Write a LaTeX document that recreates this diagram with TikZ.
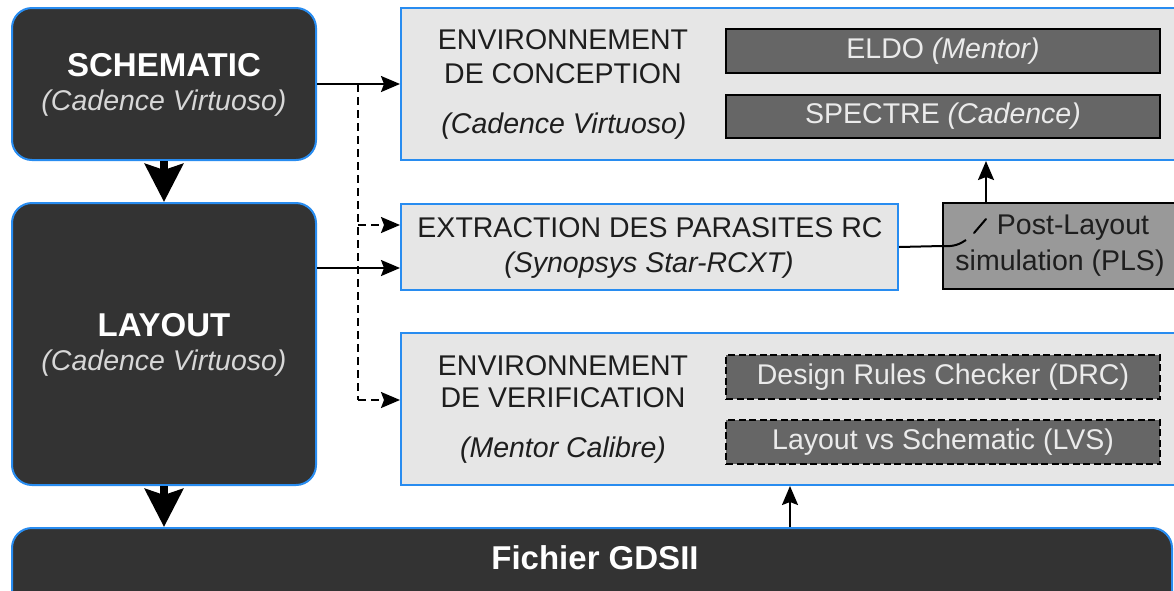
\documentclass[tikz,border=0pt]{standalone}
\usepackage{fontspec}
\setmainfont{Liberation Sans}
\usetikzlibrary{arrows.meta}
\definecolor{bordblue}{RGB}{40,140,240}
\definecolor{darkfill}{RGB}{51,51,51}
\definecolor{lightfill}{RGB}{230,230,230}
\definecolor{midfill}{RGB}{102,102,102}
\definecolor{plsfill}{RGB}{153,153,153}
\definecolor{softwhite}{RGB}{235,235,235}
\definecolor{italgray}{RGB}{215,215,215}
\definecolor{txtdark}{RGB}{30,30,30}
\begin{document}
\begin{tikzpicture}[x=1pt,y=-1pt,
  darkbox/.style={draw=bordblue, line width=2pt, fill=darkfill, rounded corners=20pt, inner sep=0pt},
  envbox/.style={draw=bordblue, line width=2pt, fill=lightfill, inner sep=0pt},
  toolbox/.style={draw=black, line width=1.8pt, fill=midfill, inner sep=0pt, text=softwhite, font=\fontsize{28.5}{30}\selectfont},
  dtoolbox/.style={toolbox, line width=2pt, dash pattern=on 7pt off 3.5pt},
  plsbox/.style={draw=black, line width=1.8pt, fill=plsfill, inner sep=0pt},
  reg/.style={inner sep=0pt, text=txtdark, font=\fontsize{28.5}{30}\selectfont},
  ital/.style={inner sep=0pt, text=txtdark, font=\fontsize{28.5}{30}\selectfont\itshape},
  boldw/.style={inner sep=0pt, text=white, font=\fontsize{33}{36}\selectfont\bfseries},
  italw/.style={inner sep=0pt, text=italgray, font=\fontsize{28.5}{30}\selectfont\itshape},
  big/.style={line width=8pt, -{Stealth[length=38pt,width=38pt,inset=6pt]}},
  arr/.style={line width=2pt, -{Stealth[length=19pt,width=16pt,inset=3pt]}},
  darr/.style={arr, dash pattern=on 8pt off 5pt},
  plain/.style={line width=2pt}
]
\useasboundingbox (0,0) rectangle (1174,590);
\clip (0,0) rectangle (1174,590);
\fill[white] (0,0) rectangle (1174,590);

% left column
\node[darkbox, minimum width=304pt, minimum height=152pt] (sch) at (164,84) {};
\node[boldw] (schT) at (164,65) {SCHEMATIC};
\node[italw] (schS) at (164,103) {(Cadence Virtuoso)};

\node[darkbox, minimum width=304pt, minimum height=282pt] (lay) at (164,344) {};
\node[boldw] (layT) at (164,325) {LAYOUT};
\node[italw] (layS) at (164,363) {(Cadence Virtuoso)};

\node[darkbox, minimum width=1160pt, minimum height=90pt] (gds) at (592,573) {};
\node[boldw] (gdsT) at (595,558) {Fichier GDSII};

% environment conception
\node[envbox, minimum width=779pt, minimum height=152pt] (conc) at (790.5,84) {};
\node[reg] (concA) at (563,40) {ENVIRONNEMENT};
\node[reg] (concB) at (563,74) {DE CONCEPTION};
\node[ital] (concC) at (564,126) {(Cadence Virtuoso)};
\node[toolbox, minimum width=434pt, minimum height=44pt] (eldo) at (943,51) {ELDO \textit{(Mentor)}};
\node[toolbox, minimum width=434pt, minimum height=43pt] (spec) at (943,116.5) {SPECTRE \textit{(Cadence)}};

% extraction
\node[envbox, minimum width=497pt, minimum height=86pt] (ext) at (649.5,247) {};
\node[reg] (extA) at (650,228) {EXTRACTION DES PARASITES RC};
\node[ital] (extB) at (649,265) {(Synopsys Star-RCXT)};

% post-layout simulation
\node[plsbox, minimum width=237pt, minimum height=86pt] (pls) at (1061.5,246) {};
\node[reg] (plsA) at (1073,228) {Post-Layout};
\node[reg] (plsB) at (1060,263) {simulation (PLS)};

% environment verification
\node[envbox, minimum width=779pt, minimum height=152pt] (ver) at (790.5,409) {};
\node[reg] (verA) at (563,366) {ENVIRONNEMENT};
\node[reg] (verB) at (563,398) {DE VERIFICATION};
\node[ital] (verC) at (563,450) {(Mentor Calibre)};
\node[dtoolbox, minimum width=434pt, minimum height=44pt] (drc) at (943,377) {Design Rules Checker (DRC)};
\node[dtoolbox, minimum width=434pt, minimum height=44pt] (lvs) at (943,442) {Layout vs Schematic (LVS)};

% coordinates
\coordinate (dashx) at (358,0);
\coordinate (ya) at (0,225);
\coordinate (yb) at (0,268);
\coordinate (yc) at (0,400);
\coordinate (plsup) at (986,0);
\coordinate (gdsup) at (790,0);

% big arrows
\draw[big] (sch.south) -- (lay.north);
\draw[big] (lay.south) -- (gds.north -| lay.south);

% solid arrows
\draw[arr] (sch.east) -- (sch.east -| conc.west);
\draw[arr] (lay.east |- yb) -- (ext.west |- yb);

% dashed distribution
\draw[plain, dash pattern=on 8pt off 5pt] (dashx |- sch.east) -- (dashx |- yc);
\draw[darr] (dashx |- ya) -- (ext.west |- ya);
\draw[darr] (dashx |- yc) -- (ver.west |- yc);

% extraction to PLS, partly hidden
\draw[plain] (ext.east) -- (pls.west) .. controls (954,247) and (960,244) .. (966,240);
\draw[plain, line cap=round] (974,233) -- (plsup |- 0,219);
\draw[arr] (plsup |- pls.north) -- (plsup |- conc.south);

% GDSII to verification
\draw[arr] (gdsup |- gds.north) -- (gdsup |- ver.south);
\end{tikzpicture}
\end{document}
